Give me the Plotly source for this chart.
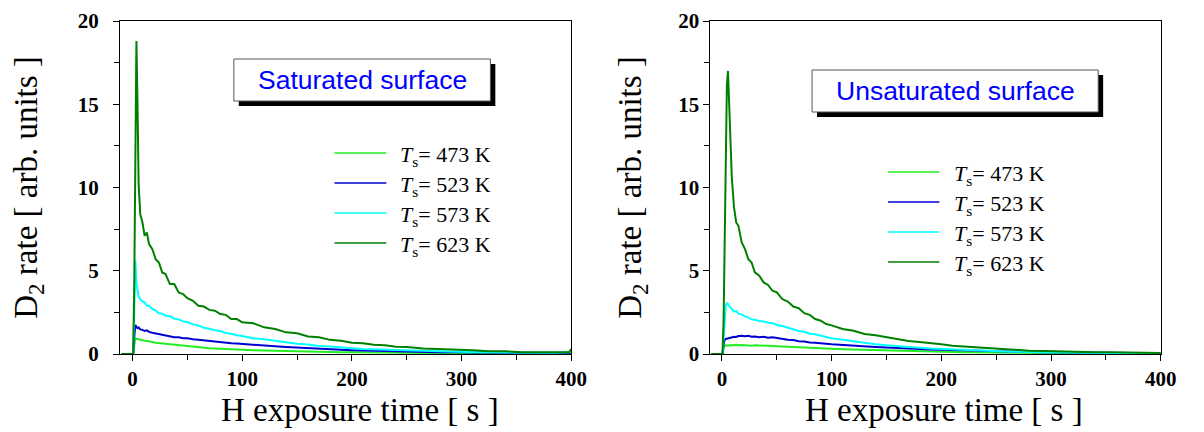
import plotly.graph_objects as go

# H exposure time [s], shared by every trace
time_s = [-10, 0.5, 1.5, 2.5, 3.5, 4.5, 5.5, 7, 9, 11, 13, 15, 18, 21, 24, 27, 30, 34, 38, 42,
          46, 50, 55, 60, 65, 70, 75, 80, 85, 90, 95, 100, 110, 120, 130, 140, 150, 160, 170, 180,
          190, 200, 210, 220, 230, 240, 250, 265, 280, 295, 310, 325, 340, 355, 370, 385, 398, 400]

temps = ["473", "523", "573", "623"]
colors = ["#22ee22", "#0000d0", "#00ffff", "#008000"]

# saturated surface, D2 rate [arb. units]
sat_473 = [0, 0, 0.5, 0.95, 0.92, 0.9, 0.88, 0.85, 0.82, 0.8, 0.78, 0.74, 0.72, 0.67, 0.65, 0.61, 0.6, 0.55, 0.54, 0.5,
           0.48, 0.46, 0.43, 0.4, 0.37, 0.35, 0.33, 0.31, 0.3, 0.28, 0.27, 0.26, 0.23, 0.21, 0.19, 0.17, 0.16, 0.14, 0.13, 0.12,
           0.11, 0.1, 0.09, 0.08, 0.08, 0.07, 0.07, 0.06, 0.05, 0.05, 0.04, 0.04, 0.04, 0.03, 0.03, 0.03, 0.03, 0.03]
sat_523 = [0, 0, 1.0, 1.75, 1.62, 1.55, 1.6, 1.48, 1.45, 1.38, 1.42, 1.33, 1.28, 1.24, 1.2, 1.13, 1.1, 1.07, 1.0, 1.0,
           0.95, 0.95, 0.88, 0.86, 0.82, 0.78, 0.75, 0.7, 0.69, 0.65, 0.63, 0.6, 0.55, 0.5, 0.46, 0.42, 0.38, 0.35, 0.31, 0.28,
           0.25, 0.23, 0.21, 0.19, 0.17, 0.16, 0.14, 0.12, 0.11, 0.1, 0.09, 0.08, 0.07, 0.06, 0.06, 0.05, 0.05, 0.05]
sat_573 = [0, 0, 2.5, 5.6, 4.3, 3.7, 3.45, 3.3, 3.15, 3.1, 2.9, 2.9, 2.7, 2.62, 2.45, 2.42, 2.3, 2.28, 2.12, 2.08,
           1.96, 1.92, 1.78, 1.72, 1.58, 1.52, 1.42, 1.38, 1.26, 1.22, 1.12, 1.08, 0.95, 0.88, 0.78, 0.72, 0.62, 0.57, 0.48, 0.45,
           0.38, 0.35, 0.3, 0.28, 0.24, 0.22, 0.19, 0.17, 0.15, 0.13, 0.12, 0.1, 0.09, 0.08, 0.07, 0.07, 0.06, 0.1]
sat_623 = [0, 0, 4.0, 12.5, 18.8, 15.0, 10.2, 8.4, 7.9, 7.1, 7.3, 6.6, 6.3, 5.7, 5.5, 4.9, 4.8, 4.2, 4.2, 3.7,
           3.6, 3.35, 3.2, 2.9, 2.85, 2.65, 2.6, 2.4, 2.35, 2.1, 2.1, 1.9, 1.85, 1.6, 1.5, 1.3, 1.25, 1.05, 1.0, 0.85,
           0.8, 0.68, 0.65, 0.55, 0.52, 0.44, 0.42, 0.33, 0.3, 0.23, 0.22, 0.16, 0.16, 0.11, 0.12, 0.09, 0.1, 0.3]

# unsaturated surface
unsat_473 = [0, 0, 0.35, 0.5, 0.52, 0.5, 0.53, 0.51, 0.54, 0.52, 0.55, 0.52, 0.54, 0.52, 0.53, 0.5, 0.52, 0.5, 0.51, 0.49,
             0.48, 0.47, 0.45, 0.44, 0.42, 0.4, 0.37, 0.36, 0.35, 0.33, 0.32, 0.31, 0.29, 0.27, 0.25, 0.23, 0.21, 0.19, 0.17, 0.16,
             0.14, 0.13, 0.12, 0.11, 0.1, 0.09, 0.08, 0.07, 0.06, 0.06, 0.05, 0.05, 0.04, 0.04, 0.03, 0.03, 0.03, 0.03]
unsat_523 = [0, 0, 0.6, 0.85, 0.9, 0.92, 0.95, 0.98, 1.0, 1.03, 1.02, 1.08, 1.1, 1.06, 1.1, 1.04, 1.05, 1.0, 1.04, 0.98,
             1.0, 0.95, 0.93, 0.86, 0.84, 0.77, 0.75, 0.69, 0.68, 0.63, 0.61, 0.58, 0.53, 0.48, 0.45, 0.42, 0.39, 0.35, 0.32, 0.29,
             0.27, 0.25, 0.23, 0.21, 0.19, 0.17, 0.15, 0.13, 0.12, 0.11, 0.1, 0.09, 0.08, 0.07, 0.06, 0.06, 0.05, 0.05]
unsat_573 = [0, 0, 1.0, 2.2, 2.9, 3.05, 3.0, 2.85, 2.7, 2.55, 2.58, 2.42, 2.38, 2.26, 2.2, 2.08, 2.06, 1.98, 1.96, 1.88,
             1.86, 1.74, 1.68, 1.58, 1.52, 1.38, 1.34, 1.22, 1.18, 1.08, 1.02, 0.95, 0.85, 0.75, 0.66, 0.58, 0.52, 0.46, 0.41, 0.37,
             0.33, 0.3, 0.27, 0.24, 0.21, 0.19, 0.17, 0.14, 0.12, 0.1, 0.09, 0.08, 0.07, 0.06, 0.05, 0.05, 0.04, 0.04]
unsat_623 = [0, 0, 2.0, 7.5, 13.5, 16.2, 17.0, 13.8, 10.6, 8.8, 7.9, 7.7, 6.7, 6.3, 5.7, 5.5, 4.9, 4.7, 4.3, 4.15,
             3.8, 3.7, 3.3, 3.15, 2.85, 2.75, 2.45, 2.35, 2.1, 2.0, 1.8, 1.72, 1.5, 1.4, 1.2, 1.12, 1.0, 0.9, 0.78, 0.72,
             0.63, 0.58, 0.5, 0.46, 0.4, 0.36, 0.3, 0.26, 0.2, 0.18, 0.14, 0.13, 0.1, 0.1, 0.08, 0.07, 0.06, 0.06]

W, H = 1204, 432
TOP, BOT = 21, 354  # pixel rows of the plot area


def px(x):
    return x / W


def py(y):
    return (BOT - y) / (BOT - TOP)


SERIF = "Liberation Serif"

fig = go.Figure()
panels = [
    ("x", "y", [sat_473, sat_523, sat_573, sat_623]),
    ("x2", "y2", [unsat_473, unsat_523, unsat_573, unsat_623]),
]
for xa, ya, series in panels:
    for i, vals in enumerate(series):
        fig.add_trace(go.Scatter(x=time_s, y=vals, mode="lines", xaxis=xa, yaxis=ya,
                                 line=dict(color=colors[i], width=2), showlegend=False,
                                 name="T_s = " + temps[i] + " K"))

ax_style = dict(showline=True, linecolor="black", linewidth=1.2, mirror=True,
                ticks="outside", ticklen=6, tickwidth=1.2, tickcolor="black",
                showgrid=False, zeroline=False,
                tickfont=dict(family=SERIF, size=21, color="black", weight="bold"),
                minor=dict(ticks="outside", ticklen=5, tickwidth=1, tickcolor="black", showgrid=False))


def ytitle(standoff):
    return dict(text="D<sub>2</sub> rate [ arb. units ]", font=dict(family=SERIF, size=33, color="black"),
                standoff=standoff)


fig.update_layout(
    width=W, height=H,
    margin=dict(l=0, r=0, t=TOP, b=H - BOT),
    paper_bgcolor="white", plot_bgcolor="white",
    xaxis=dict(domain=[px(121.7), px(579)], range=[-11.4, 400], dtick=100, tick0=0,
               anchor="y", **ax_style),
    yaxis=dict(domain=[0, 1], range=[0, 20], dtick=5, anchor="x", title=ytitle(30),
               ticklabelstandoff=10, **ax_style),
    xaxis2=dict(domain=[px(720), px(1176.4)], range=[-10.5, 400], dtick=100, tick0=0,
                anchor="y2", **ax_style),
    yaxis2=dict(domain=[0, 1], range=[0, 20], dtick=5, anchor="x2", title=ytitle(26),
                ticklabelstandoff=0, **ax_style),
)
fig.update_xaxes(minor_dtick=50)
fig.update_yaxes(minor_dtick=2.5)

shapes = []
annotations = []

# x-axis titles
for cx in [365, 957]:
    annotations.append(dict(x=px(cx), y=py(410), xref="paper", yref="paper", showarrow=False,
                            text="H exposure time [ s ]", xanchor="center", yanchor="middle",
                            font=dict(family=SERIF, size=33, color="black")))

# boxed labels with drop shadow
boxes = [("Saturated surface", 237, 497, 59, 101), ("Unsaturated surface", 823, 1113, 70, 112)]
for label, x0, x1, y0, y1 in boxes:
    shapes.append(dict(type="rect", xref="paper", yref="paper", x0=px(x0 + 5), x1=px(x1 + 5),
                       y0=py(y1 + 5), y1=py(y0 + 5), fillcolor="black", line=dict(width=0)))
    shapes.append(dict(type="rect", xref="paper", yref="paper", x0=px(x0), x1=px(x1),
                       y0=py(y1), y1=py(y0), fillcolor="white", line=dict(color="#555555", width=1)))
    annotations.append(dict(x=px((x0 + x1) / 2), y=py((y0 + y1) / 2), xref="paper", yref="paper",
                            showarrow=False, text=label, xanchor="center", yanchor="middle",
                            font=dict(family="Liberation Sans", size=26.5, color="#0000ff")))

# legends
legends = [(339, 391.5, 403, [153, 183, 213, 243]), (900, 952, 965, [172, 202, 232, 262])]
for lx0, lx1, tx, rows in legends:
    for i, ry in enumerate(rows):
        shapes.append(dict(type="line", xref="paper", yref="paper", x0=px(lx0), x1=px(lx1),
                           y0=py(ry), y1=py(ry), line=dict(color=colors[i], width=1.6)))
        annotations.append(dict(x=px(tx), y=py(ry + 3), xref="paper", yref="paper", showarrow=False,
                                text="<i>T</i><sub>s</sub>= " + temps[i] + " K",
                                xanchor="left", yanchor="middle",
                                font=dict(family=SERIF, size=22, color="black")))

fig.update_layout(shapes=shapes, annotations=annotations)

# drop the default page margin so the figure fills the window exactly
fig.write_html("out.html", config={"displayModeBar": False},
               post_script="document.body.style.margin='0';")
